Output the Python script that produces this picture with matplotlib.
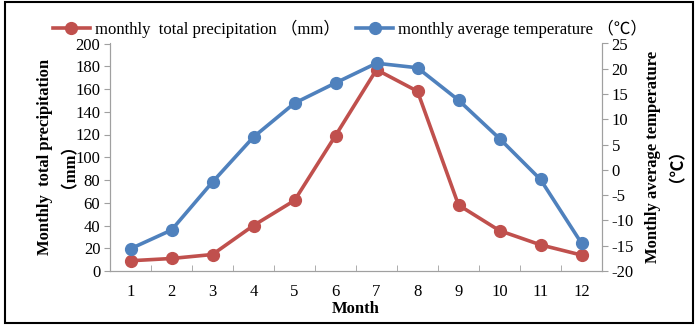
import matplotlib
import numpy as np

matplotlib.use("Agg")
import matplotlib.pyplot as plt
from matplotlib.patches import Rectangle

months = list(range(1, 13))
precipitation = [9, 11, 14.5, 40, 62, 119, 177, 158, 58, 35.5, 23, 14]
temperature = [-15.6, -11.9, -2.4, 6.5, 13.2, 17.2, 21.1, 20.2, 13.8, 6.2, -1.9, -14.5]

RED = "#C0504D"
BLUE = "#4F81BD"
SERIF = ["Liberation Serif", "Noto Sans CJK SC"]

plt.rcParams["font.family"] = SERIF
plt.rcParams["axes.unicode_minus"] = False


def main():
    fig = plt.figure(figsize=(7.0, 3.28), dpi=100)
    ax = fig.add_axes([110 / 700, 1 - 271 / 328, 492 / 700, 227.5 / 328])
    ax2 = ax.twinx()

    (l1,) = ax.plot(months, precipitation, color=RED, lw=2.6, marker="o", ms=8.5,
                    label="monthly  total precipitation （mm）")
    (l2,) = ax2.plot(months, temperature, color=BLUE, lw=2.6, marker="o", ms=8.5,
                     label="monthly average temperature （℃）")

    ax.set_xlim(0.5, 12.5)
    ax.set_ylim(0, 200)
    ax.set_yticks(np.arange(0, 201, 20))
    ax2.set_ylim(-20, 25)
    ax2.set_yticks(np.arange(-20, 26, 5))

    ax.set_xticks(months)
    ax.set_xticks(np.arange(0.5, 12.6, 1), minor=True)
    ax.tick_params(axis="x", which="major", length=0, pad=9, labelsize=12)
    ax.tick_params(axis="x", which="minor", length=4, color="#A0A0A0", direction="in")
    ax.tick_params(axis="y", length=4, color="#A0A0A0", labelsize=12, pad=3)
    ax2.tick_params(axis="y", length=4, color="#A0A0A0", labelsize=12, pad=3)

    for a in (ax, ax2):
        a.spines["top"].set_visible(False)
        for side in ("left", "right", "bottom"):
            a.spines[side].set_color("#A0A0A0")

    ax.set_ylabel("Monthly  total precipitation\n（mm）", fontweight="bold",
                  fontsize=12, linespacing=1.05, labelpad=4)
    ax2.set_ylabel("Monthly average temperature\n（℃）", fontweight="bold",
                   fontsize=12, linespacing=1.05, labelpad=8)
    ax.set_xlabel("Month", fontweight="bold", fontsize=12, labelpad=1)

    fig.legend(handles=[l1, l2], loc="center", bbox_to_anchor=(0.5, 1 - 29 / 328),
               ncol=2, frameon=False, fontsize=12, handlelength=2.2,
               handletextpad=0.3, columnspacing=1.0, borderaxespad=0)

    fig.patches.append(Rectangle((5 / 700, 5 / 328), 688 / 700, 321 / 328,
                                 transform=fig.transFigure, fill=False,
                                 edgecolor="black", lw=1.5))

    fig.savefig("out.png", dpi=100)
    plt.close(fig)


if __name__ == "__main__":
    main()
